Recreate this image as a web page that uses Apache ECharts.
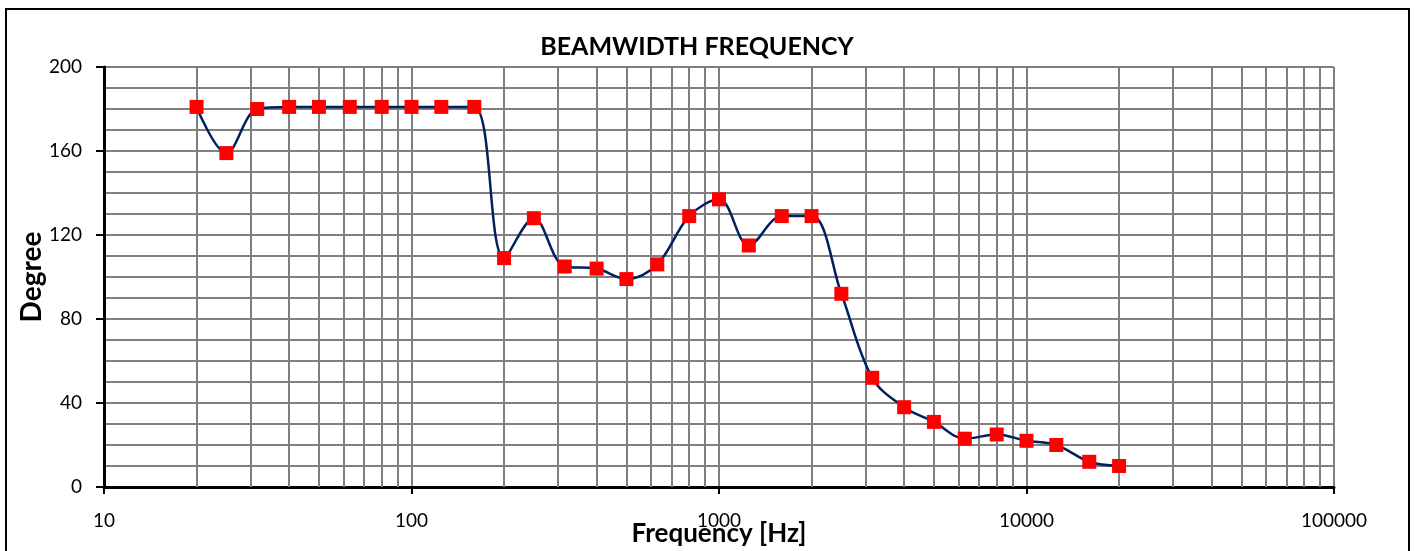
<!DOCTYPE html>
<html>
<head>
<meta charset="utf-8">
<script src="https://cdn.jsdelivr.net/npm/echarts@6/dist/echarts.min.js"></script>
<style>
  html, body { margin: 0; padding: 0; background: #fff; }
  #chart { width: 1416px; height: 551px; }
</style>
</head>
<body>
<div id="chart"></div>
<script>
// frequency bands (Hz) and measured beamwidth (degree)
const frequencies = [20, 25, 31.5, 40, 50, 63, 80, 100, 125, 160, 200, 250, 315, 400, 500, 630, 800,
  1000, 1250, 1600, 2000, 2500, 3150, 4000, 5000, 6300, 8000, 10000, 12500, 16000, 20000];
const beamwidth = [181, 159, 180, 181, 181, 181, 181, 181, 181, 181, 109, 128, 105, 104, 99, 106, 129,
  137, 115, 129, 129, 92, 52, 38, 31, 23, 25, 22, 20, 12, 10];

// minor vertical grid lines of the log axis: 2..9 in each decade
const decades = [10, 100, 1000, 10000];
const minorSteps = [2, 3, 4, 5, 6, 7, 8, 9];

const FONT = 'Lato, "Open Sans", sans-serif';

const minorLines = [];
decades.forEach(d => minorSteps.forEach(s => minorLines.push({ xAxis: d * s })));

const chart = echarts.init(document.getElementById('chart'));

chart.setOption({
  animation: false,
  backgroundColor: '#fff',
  title: {
    text: 'BEAMWIDTH FREQUENCY',
    left: 692,
    top: 29,
    textAlign: 'center',
    textStyle: { fontFamily: FONT, fontSize: 25, fontWeight: 'bold', color: '#000' }
  },
  graphic: [{
    type: 'rect',
    shape: { x: 6, y: 9, width: 1403, height: 560 },
    style: { fill: null, stroke: '#000', lineWidth: 2 },
    silent: true
  }],
  grid: { left: 104, right: 82, top: 67, bottom: 64, containLabel: false, outerBoundsMode: 'none' },
  xAxis: {
    type: 'log',
    logBase: 10,
    min: 10,
    max: 100000,
    name: 'Frequency [Hz]',
    nameLocation: 'middle',
    nameGap: 34,
    nameMoveOverlap: false,
    nameTextStyle: { fontFamily: FONT, fontSize: 26, fontWeight: 'bold', color: '#000' },
    axisLine: { onZero: false, lineStyle: { color: '#000', width: 3 } },
    axisTick: { show: true, length: 7, lineStyle: { color: '#000', width: 2 } },
    axisLabel: {
      fontFamily: FONT, fontSize: 19, color: '#000', margin: 24,
      formatter: v => String(v)
    },
    splitLine: { show: true, lineStyle: { color: '#808080', width: 2 } },
    minorTick: { show: false },
    minorSplitLine: { show: false }
  },
  yAxis: {
    type: 'value',
    min: 0,
    max: 200,
    interval: 40,
    name: 'Degree',
    nameLocation: 'middle',
    nameGap: 58,
    nameMoveOverlap: false,
    nameTextStyle: { fontFamily: FONT, fontSize: 28, fontWeight: 'bold', color: '#000' },
    axisLine: { show: true, lineStyle: { color: '#000', width: 3 } },
    axisTick: { show: true, length: 8, lineStyle: { color: '#000', width: 2 } },
    axisLabel: { fontFamily: FONT, fontSize: 19, color: '#000', margin: 22 },
    splitLine: { show: true, lineStyle: { color: '#808080', width: 2 } },
    minorTick: { show: false, splitNumber: 4 },
    minorSplitLine: { show: true, lineStyle: { color: '#808080', width: 2 } }
  },
  series: [
    {
      type: 'line',
      silent: true,
      data: [],
      markLine: {
        silent: true,
        symbol: 'none',
        label: { show: false },
        lineStyle: { color: '#808080', width: 2, type: 'solid' },
        data: minorLines
      }
    },
    {
      name: 'Beamwidth',
      type: 'line',
      smooth: 0.35,
      data: frequencies.map((f, i) => [f, beamwidth[i]]),
      symbol: 'rect',
      symbolSize: 14,
      itemStyle: { color: '#ff0000' },
      lineStyle: { color: '#002060', width: 2.5 },
      z: 5
    }
  ]
});
</script>
</body>
</html>
